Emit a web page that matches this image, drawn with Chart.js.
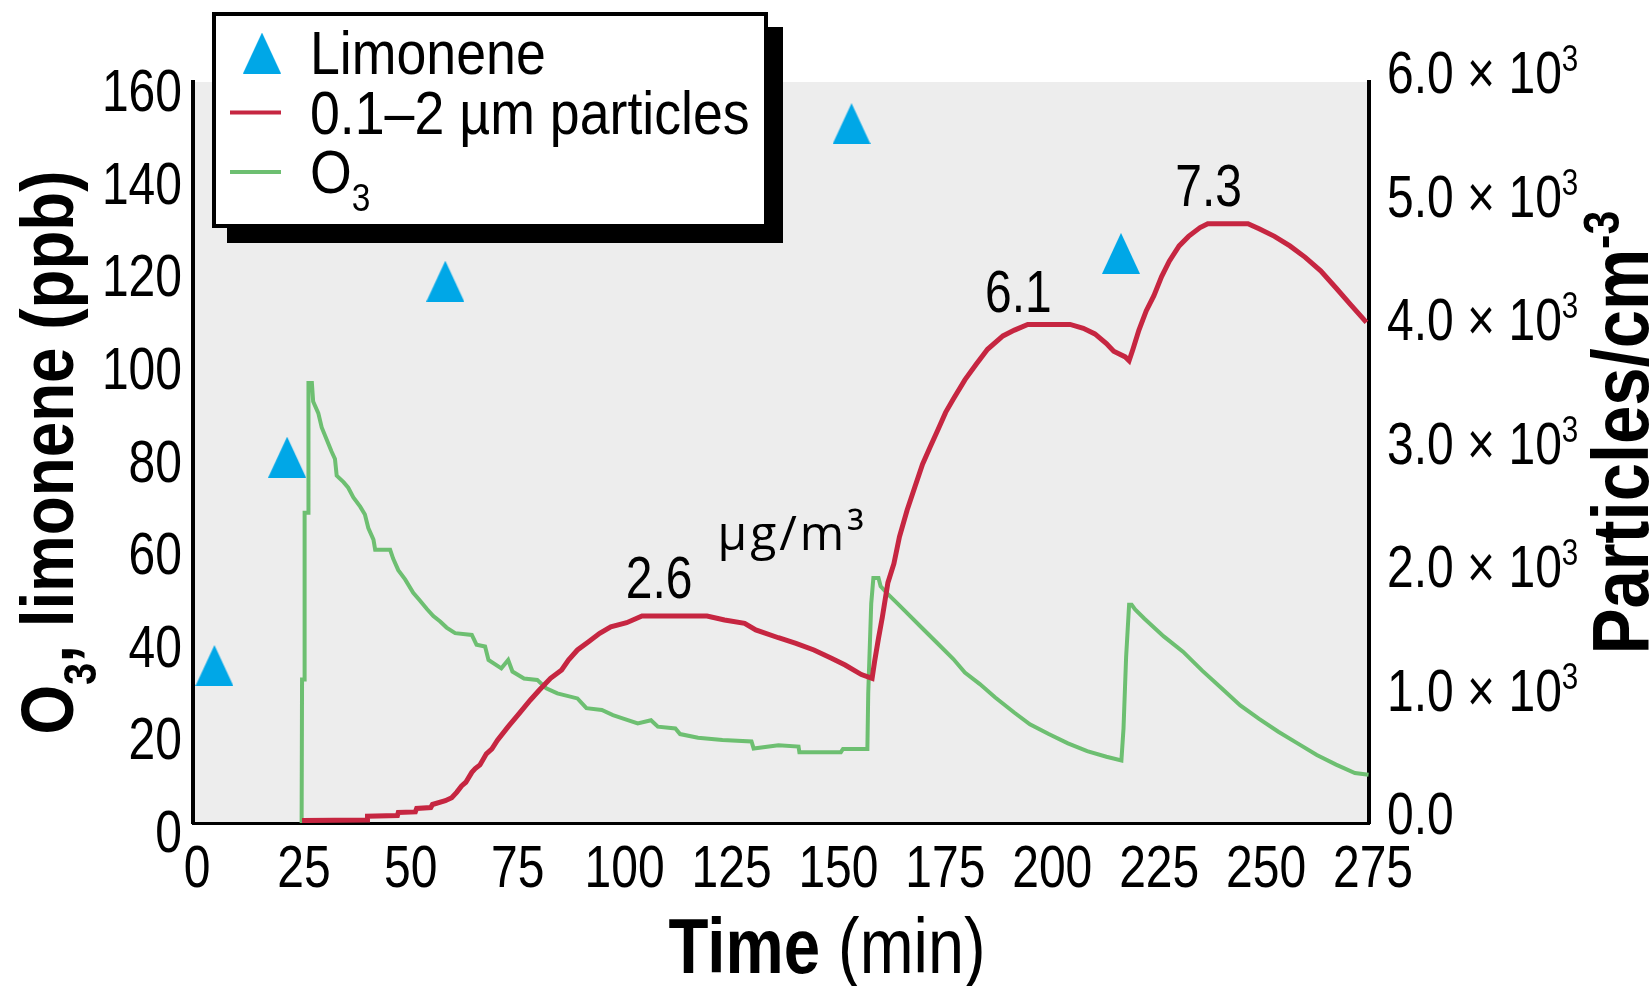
<!DOCTYPE html>
<html>
<head>
<meta charset="utf-8">
<script src="https://cdn.jsdelivr.net/npm/chart.js@4.4.1/dist/chart.umd.min.js"></script>
<style>
  html, body { margin: 0; padding: 0; background: #fff; }
  #wrap { position: relative; width: 1649px; height: 986px; }
</style>
</head>
<body>
<div id="wrap"><canvas id="chart"></canvas></div>
<script>
// limonene additions (time in min, ppb)
const limoneneTimes = [5, 22, 59, 154, 217];
const limoneneValues = [34, 79, 117, 151, 123];

// ozone (ppb)
const o3Times = [
  25.4, 25.5, 26.0, 26.1, 26.9, 27.0, 27.8, 28.1, 29.3, 30.1,
  31.3, 32.4, 33.2, 33.6, 35.2, 36.3, 37.5, 39.1, 40.2, 41.0,
  42.2, 42.6, 46.1, 46.8, 48.0, 49.6, 51.5, 53.1, 54.7, 56.2,
  57.8, 59.3, 61.3, 65.2, 66.3, 68.3, 69.1, 72.1, 73.7, 74.7,
  77.4, 80.5, 82.6, 85.2, 89.9, 92.0, 95.6, 98.2, 100.8, 104.0,
  107.1, 108.7, 112.8, 113.9, 118.1, 123.8, 130.6, 131.1, 136.9, 141.6,
  141.8, 151.5, 152.0, 157.7, 157.9, 158.6, 159.1, 160.3, 160.8, 162.5,
  164.3, 167.0, 170.6, 174.2, 177.8, 180.5, 184.0, 187.6, 192.1, 195.7,
  200.1, 204.6, 209.1, 213.6, 217.1, 217.6, 218.2, 218.9, 219.5, 220.3,
  222.5, 227.0, 231.5, 236.0, 240.4, 244.9, 249.3, 253.8, 258.3, 262.8,
  267.3, 271.7, 274.9
];
const o3Values = [
  0, 31, 31, 67, 67, 95, 95, 91, 88.5, 85.4,
  82.7, 80.2, 78.6, 75.0, 73.6, 72.4, 70.3, 68.3, 66.6, 63.7,
  61.2, 59.0, 59.0, 57.1, 54.6, 52.6, 49.7, 48.0, 46.2, 44.7,
  43.5, 42.2, 41.0, 40.6, 38.5, 38.1, 35.2, 33.4, 35.2, 32.7,
  31.2, 30.9, 29.1, 28.0, 26.9, 24.8, 24.4, 23.3, 22.5, 21.5,
  22.2, 20.8, 20.4, 19.2, 18.4, 17.9, 17.6, 16.1, 16.8, 16.5,
  15.3, 15.3, 16.0, 16.0, 28.0, 47.4, 52.9, 52.9, 51.1, 49.4,
  47.8, 45.3, 42.0, 38.7, 35.4, 32.5, 30.0, 27.1, 23.8, 21.3,
  19.2, 17.2, 15.5, 14.3, 13.5, 20.5, 35.8, 47.1, 47.1, 46.1,
  44.1, 40.3, 37.0, 32.9, 29.2, 25.4, 22.5, 19.7, 17.2, 14.7,
  12.6, 10.8, 10.4
];

// 0.1-2 um particles (particles/cm3)
const particleTimes = [
  25.5, 40.7, 40.8, 47.8, 48.0, 52.0, 52.3, 55.6, 56.0, 59.0,
  60.5, 61.7, 62.8, 63.8, 65.2, 66.0, 67.1, 68.6, 69.9, 71.2,
  73.7, 76.3, 78.9, 81.0, 83.6, 86.2, 87.8, 89.9, 92.5, 95.1,
  97.7, 101.4, 105.0, 120.2, 124.3, 129.0, 131.6, 136.9, 141.0, 145.2,
  149.3, 152.5, 156.3, 158.8, 159.4, 160.3, 161.2, 162.5, 163.9, 165.2,
  167.0, 168.8, 170.6, 172.4, 174.2, 176.0, 177.8, 180.5, 183.1, 185.8,
  189.4, 192.1, 195.2, 205.1, 208.2, 210.9, 213.6, 215.3, 218.0, 218.9,
  219.8, 221.2, 222.9, 224.7, 226.5, 228.3, 230.6, 232.8, 235.5, 237.3,
  246.7, 249.3, 252.9, 256.5, 260.1, 263.7, 267.3, 270.8, 274.4
];
const particleValues = [
  20, 25, 55, 60, 85, 90, 118, 125, 150, 180,
  205, 250, 300, 330, 410, 440, 470, 560, 600, 670,
  780, 888, 996, 1077, 1172, 1239, 1320, 1401, 1468, 1536,
  1589, 1622, 1676, 1676, 1644, 1617, 1563, 1500, 1455, 1401,
  1334, 1279, 1202, 1171, 1310, 1496, 1667, 1946, 2100, 2317,
  2534, 2721, 2906, 3046, 3185, 3325, 3433, 3588, 3712, 3836,
  3944, 3991, 4037, 4037, 4006, 3960, 3882, 3820, 3774, 3743,
  3836, 3991, 4146, 4270, 4425, 4549, 4673, 4750, 4821, 4853,
  4853, 4812, 4750, 4673, 4580, 4471, 4332, 4193, 4053
];

// particle mass at each peak (ug/m3)
const massLabels = ['2.6', '6.1', '7.3'];
const massTimes = [109, 193, 237.5];

// axis ticks
const timeTicks = [0, 25, 50, 75, 100, 125, 150, 175, 200, 225, 250, 275];
const ppbTicks = [0, 20, 40, 60, 80, 100, 120, 140, 160];
const particleTicks = [0, 1000, 2000, 3000, 4000, 5000, 6000];

const SANS = "'Liberation Sans', Arial, sans-serif";
const INK = '#000';
const colors = { limonene: '#00a7e7', particles: '#c62641', o3: '#6dbf71', plot: '#ededed' };
const legendBox = { x: 212, y: 12, w: 556, h: 216, shadow: 15 };

function triangleMarker(w, h, color) {
  const c = document.createElement('canvas');
  c.width = w;
  c.height = h;
  const g = c.getContext('2d');
  g.fillStyle = color;
  g.beginPath();
  g.moveTo(w / 2, 0);
  g.lineTo(w, h);
  g.lineTo(0, h);
  g.closePath();
  g.fill();
  return c;
}

// split a label into normal / subscript / superscript pieces,
// every piece squeezed horizontally (the lettering is condensed)
function textRuns(text, size, weight, squeeze) {
  const sub = '₀₁₂₃₄₅₆₇₈₉';
  const sup = '⁰¹²³⁴⁵⁶⁷⁸⁹⁻';
  const runs = [];
  for (const ch of text) {
    let kind = 'base', c = ch;
    if (sub.includes(ch)) { kind = 'sub'; c = String(sub.indexOf(ch)); }
    else if (sup.includes(ch)) { kind = 'sup'; c = '0123456789-'[sup.indexOf(ch)]; }
    const last = runs[runs.length - 1];
    if (last && last.kind === kind) last.text += c;
    else runs.push({ kind, text: c });
  }
  return runs.map(r => {
    const s = r.kind === 'base' ? size : Math.round(size * 0.62);
    const dy = r.kind === 'sub' ? size * 0.3 : r.kind === 'sup' ? -size * 0.36 : 0;
    return { text: r.text, font: `${weight} ${s}px ${SANS}`, dy, sq: squeeze };
  });
}
function runsWidth(ctx, runs) {
  return runs.reduce((w, r) => { ctx.font = r.font; return w + ctx.measureText(r.text).width * r.sq; }, 0);
}
function drawRuns(ctx, runs, x, y) {
  for (const r of runs) {
    ctx.font = r.font;
    ctx.save();
    ctx.translate(x, y + r.dy);
    ctx.scale(r.sq, 1);
    ctx.fillText(r.text, 0, 0);
    ctx.restore();
    x += ctx.measureText(r.text).width * r.sq;
  }
}
function drawLabel(ctx, runs, x, y, align) {
  const w = runsWidth(ctx, runs);
  const x0 = align === 'center' ? x - w / 2 : align === 'right' ? x - w : x;
  drawRuns(ctx, runs, x0, y);
  return w;
}

function particleTickLabel(v) {
  return v === 0 ? '0.0' : (v / 1000).toFixed(1) + ' × 10³';
}

function drawTickLabels(chart) {
  const { ctx, chartArea: a, scales } = chart;
  const tick = t => textRuns(t, 60, 'normal', 0.8);
  scales.x.ticks.forEach(t => {
    drawLabel(ctx, tick(String(t.value)), scales.x.getPixelForValue(t.value) + 4, a.bottom + 64, 'center');
  });
  scales.y.ticks.forEach(t => {
    drawLabel(ctx, tick(String(t.value)), a.left - 11, scales.y.getPixelForValue(t.value) + 29, 'right');
  });
  scales.y1.ticks.forEach(t => {
    drawLabel(ctx, tick(particleTickLabel(t.value)), a.right + 18, scales.y1.getPixelForValue(t.value) + 11, 'left');
  });
}

function drawLegend(chart) {
  const { ctx } = chart;
  const b = legendBox;
  ctx.fillStyle = INK;
  ctx.fillRect(b.x + b.shadow, b.y + b.shadow, b.w, b.h);
  ctx.fillStyle = '#fff';
  ctx.fillRect(b.x, b.y, b.w, b.h);
  ctx.lineWidth = 4;
  ctx.strokeStyle = INK;
  ctx.strokeRect(b.x + 2, b.y + 2, b.w - 4, b.h - 4);
  chart.data.datasets.forEach((ds, i) => {
    const base = b.y + 62 + i * 59.5;
    const mid = base - 21;
    if (ds.showLine === false) {
      const img = ds.pointStyle;
      ctx.drawImage(img, b.x + 50 - img.width / 2, mid - img.height / 2);
    } else {
      ctx.strokeStyle = ds.borderColor;
      ctx.lineWidth = 4;
      ctx.beginPath();
      ctx.moveTo(b.x + 18, mid);
      ctx.lineTo(b.x + 69, mid);
      ctx.stroke();
    }
    ctx.fillStyle = INK;
    drawRuns(ctx, textRuns(ds.label, 61, 'normal', 0.88), b.x + 98, base);
  });
}

const decorations = {
  id: 'decorations',
  beforeDraw(chart) {
    const { ctx, chartArea: a } = chart;
    ctx.save();
    ctx.fillStyle = colors.plot;
    ctx.fillRect(a.left, a.top, a.right - a.left, a.bottom - a.top);
    ctx.restore();
  },
  afterDatasetsDraw(chart) {
    // mass concentration written above the particle peaks
    const { ctx } = chart;
    const meta = chart.getDatasetMeta(1);
    ctx.save();
    ctx.fillStyle = INK;
    ctx.textBaseline = 'alphabetic';
    massLabels.forEach((txt, i) => {
      let k = 0;
      particleTimes.forEach((t, j) => {
        if (Math.abs(t - massTimes[i]) < Math.abs(particleTimes[k] - massTimes[i])) k = j;
      });
      const x = chart.scales.x.getPixelForValue(massTimes[i]);
      const base = meta.data[k].y - 18;
      const w = drawLabel(ctx, textRuns(txt, 60, 'normal', 0.8), x, base, 'center');
      if (i === 0) {
        ctx.font = "48px 'Open Sans', 'Noto Sans', sans-serif";
        ctx.textAlign = 'left';
        ctx.letterSpacing = '3px';
        ctx.fillText('µg/m³', x + w / 2 + 25, base - 48);
        ctx.letterSpacing = '0px';
      }
    });
    ctx.restore();
  },
  afterDraw(chart) {
    const { ctx, chartArea: a } = chart;
    ctx.save();
    ctx.fillStyle = INK;
    ctx.textAlign = 'left';
    ctx.textBaseline = 'alphabetic';

    drawTickLabels(chart);

    // left axis title
    let runs = textRuns('O₃, limonene (ppb)', 75, 'bold', 0.85);
    ctx.save();
    ctx.translate(a.left - 120, (a.top + a.bottom) / 2);
    ctx.rotate(-Math.PI / 2);
    drawRuns(ctx, runs, -runsWidth(ctx, runs) / 2, 0);
    ctx.restore();

    // right axis title
    runs = textRuns('Particles/cm⁻³', 80, 'bold', 0.86);
    ctx.save();
    ctx.translate(a.right + 279, (a.top + a.bottom) / 2 - 20);
    ctx.rotate(-Math.PI / 2);
    drawRuns(ctx, runs, -runsWidth(ctx, runs) / 2, 0);
    ctx.restore();

    // time axis title
    runs = [...textRuns('Time', 77, 'bold', 0.85), ...textRuns(' (min)', 77, 'normal', 0.84)];
    drawRuns(ctx, runs, (a.left + a.right) / 2 + 46 - runsWidth(ctx, runs) / 2, a.bottom + 150);

    drawLegend(chart);
    ctx.restore();
  }
};

new Chart(document.getElementById('chart'), {
  type: 'line',
  data: {
    datasets: [
      {
        label: 'Limonene',
        data: limoneneTimes.map((t, i) => ({ x: t, y: limoneneValues[i] })),
        yAxisID: 'y',
        showLine: false,
        pointStyle: triangleMarker(38, 41, colors.limonene),
        pointRadius: 10,
        order: 0
      },
      {
        label: '0.1–2 µm particles',
        data: particleTimes.map((t, i) => ({ x: t, y: particleValues[i] })),
        yAxisID: 'y1',
        borderColor: colors.particles,
        borderWidth: 5,
        pointRadius: 0,
        tension: 0,
        order: 1
      },
      {
        label: 'O₃',
        data: o3Times.map((t, i) => ({ x: t, y: o3Values[i] })),
        yAxisID: 'y',
        borderColor: colors.o3,
        borderWidth: 4,
        pointRadius: 0,
        tension: 0,
        order: 2
      }
    ]
  },
  options: {
    responsive: true,
    maintainAspectRatio: false,
    devicePixelRatio: 1,
    animation: false,
    events: [],
    layout: { padding: { top: 82, left: 0, right: 0, bottom: 0 } },
    plugins: { legend: { display: false }, tooltip: { enabled: false } },
    scales: {
      x: {
        type: 'linear',
        min: 0,
        max: 275,
        afterBuildTicks: s => { s.ticks = timeTicks.map(v => ({ value: v })); },
        afterFit: s => { s.height = 163; },
        grid: { display: false, drawTicks: false },
        border: { color: INK, width: 3 },
        ticks: { display: false }
      },
      y: {
        position: 'left',
        min: 0,
        max: 160,
        afterBuildTicks: s => { s.ticks = ppbTicks.map(v => ({ value: v })); },
        afterFit: s => { s.width = 193; },
        grid: { display: false, drawTicks: false },
        border: { color: INK, width: 4 },
        ticks: { display: false }
      },
      y1: {
        position: 'right',
        min: 0,
        max: 6000,
        afterBuildTicks: s => { s.ticks = particleTicks.map(v => ({ value: v })); },
        afterFit: s => { s.width = 280; },
        grid: { display: false, drawTicks: false },
        border: { color: INK, width: 4 },
        ticks: { display: false }
      }
    }
  },
  plugins: [decorations]
});
</script>
</body>
</html>
